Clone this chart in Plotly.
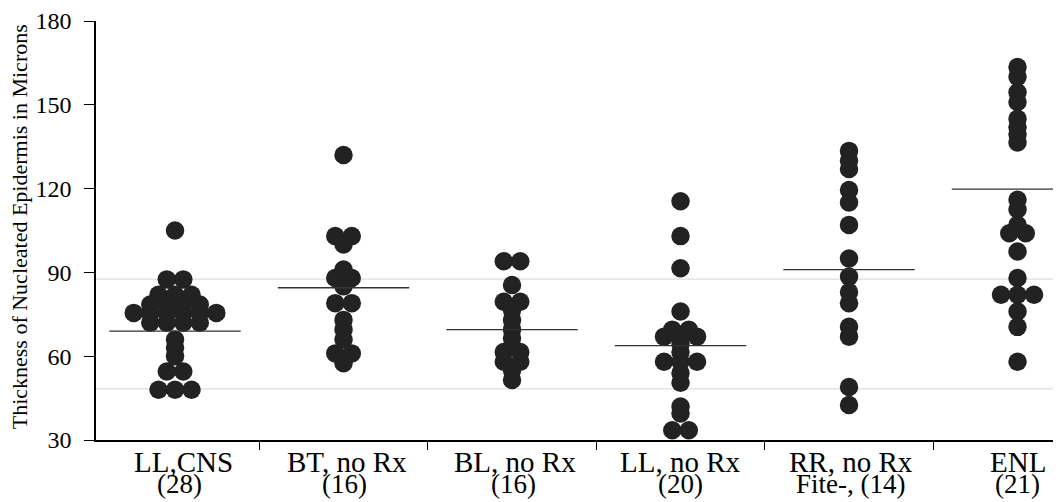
import plotly.graph_objects as go

# ---- data ----
categories = ["LL,CNS", "BT, no Rx", "BL, no Rx", "LL, no Rx", "RR, no Rx", "ENL"]
count_labels = ["(28)", "(16)", "(16)", "(20)", "Fite-, (14)", "(21)"]

ll_cns = [105, 87.5, 87.5, 82, 82, 82, 78.5, 78.5, 78.5, 78.5,
          75.5, 75.5, 75.5, 75.5, 75.5, 75.5, 72, 72, 72, 72,
          66, 63, 60, 54.5, 54.5, 48, 48, 48]
bt_norx = [132, 103, 103, 100, 91, 88, 88, 85, 79, 79, 73, 69.5, 66, 61, 61, 57.5]
bl_norx = [94, 94, 85.5, 79.5, 79.5, 76.5, 73, 69.5, 66.5, 63.5, 61.5, 61.5,
           58, 58, 55, 51.5]
ll_norx = [115.5, 103, 91.5, 76, 69.5, 69.5, 67, 67, 67, 64.5, 61.5,
           58, 58, 58, 54, 50.5, 42, 39.5, 33.5, 33.5]
rr_norx = [133.5, 130, 127, 119.5, 115, 107, 95, 88.5, 83, 79, 70.5, 67, 49, 42.5]
enl = [163.5, 160, 154.5, 151, 145, 142, 139.5, 136.5, 116, 112.5, 107, 104, 104,
       97.5, 88, 82, 82, 82, 76, 70.5, 58]
groups = [ll_cns, bt_norx, bl_norx, ll_norx, rr_norx, enl]

means = [69.0, 84.5, 69.5, 63.8, 91.0, 119.8]
reference_levels = [87.6, 48.3]

y_ticks = [30, 60, 90, 120, 150, 180]

# ---- layout constants ----
X_RANGE = [-0.469, 5.258]
Y_RANGE = [30, 180]
ROW_STEP = 0.098      # horizontal spacing of dots sharing a value (axis units)
HALF_W = 0.39         # half width of mean bars
FONT = "Liberation Serif"
LABEL_XSHIFT = [8, 3, 3, 0, 2, 0]


def dot_offsets(vals, tol=0.5, step=ROW_STEP):
    order = sorted(range(len(vals)), key=lambda i: vals[i])
    rows, cur = [], []
    for i in order:
        if cur and vals[i] - vals[cur[0]] > tol:
            rows.append(cur)
            cur = []
        cur.append(i)
    if cur:
        rows.append(cur)
    off = [0.0] * len(vals)
    for row in rows:
        n = len(row)
        for j, i in enumerate(row):
            off[i] = (j - (n - 1) / 2) * step
    return off


fig = go.Figure()

# faint reference lines
for lvl in reference_levels:
    fig.add_trace(go.Scatter(x=X_RANGE, y=[lvl, lvl], mode="lines",
                             line=dict(color="#d4d4d4", width=1),
                             hoverinfo="skip", showlegend=False))

# dots
for k, vals in enumerate(groups):
    offs = dot_offsets(vals)
    fig.add_trace(go.Scatter(
        x=[k + o for o in offs], y=vals, mode="markers",
        marker=dict(size=18.5, color="#222222", line=dict(width=0)),
        showlegend=False, name=categories[k]))

# mean bars
for k, m in enumerate(means):
    fig.add_trace(go.Scatter(x=[k - HALF_W, k + HALF_W], y=[m, m], mode="lines",
                             line=dict(color="#333333", width=1.3),
                             hoverinfo="skip", showlegend=False))

annotations = []
for k, (name, cnt) in enumerate(zip(categories, count_labels)):
    annotations.append(dict(x=k, y=-0.0533, xref="x", yref="paper", text=name,
                            xshift=LABEL_XSHIFT[k],
                            showarrow=False, xanchor="center", yanchor="middle",
                            font=dict(family=FONT, size=29, color="black")))
    annotations.append(dict(x=k, y=-0.104, xref="x", yref="paper", text=cnt,
                            xshift=LABEL_XSHIFT[k] // 2,
                            showarrow=False, xanchor="center", yanchor="middle",
                            font=dict(family=FONT, size=27, color="black")))
annotations.append(dict(x=-0.0798, y=0.51, xref="paper", yref="paper",
                        text="Thickness of Nucleated Epidermis in Microns",
                        textangle=-90, showarrow=False, xanchor="center",
                        yanchor="middle",
                        font=dict(family=FONT, size=22, color="black")))

# the page body adds an 8px offset, so the figure is sized to end at the window edge
fig.update_layout(
    width=1053, height=494,
    margin=dict(l=88, r=0, t=10, b=62),
    paper_bgcolor="white", plot_bgcolor="white",
    showlegend=False,
    annotations=annotations,
    xaxis=dict(range=X_RANGE, tickvals=[0.5, 1.5, 2.5, 3.5, 4.5],
               ticktext=[""] * 5, ticks="outside", ticklen=8, tickwidth=1.2,
               tickcolor="black", showline=True, linecolor="black", linewidth=1.5,
               showgrid=False, zeroline=False),
    yaxis=dict(range=Y_RANGE, tickvals=y_ticks, ticktext=[str(t) for t in y_ticks],
               ticks="outside", ticklen=10, tickwidth=1.2, tickcolor="black",
               showline=True, linecolor="black", linewidth=1.5, showgrid=False,
               zeroline=False, ticklabelstandoff=8, ticklabeloverflow="allow",
               tickfont=dict(family=FONT, size=24, color="black")),
)

fig.write_html("out.html")
